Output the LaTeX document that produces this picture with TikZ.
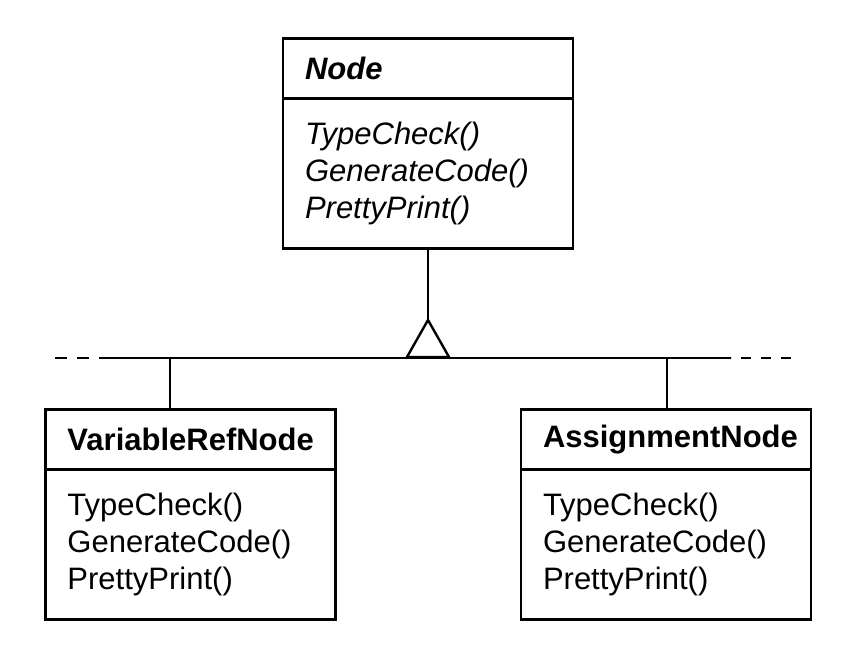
\documentclass[tikz,border=0pt]{standalone}
\usepackage{fontspec}
\setmainfont{Liberation Sans}
\usetikzlibrary{positioning}
\newcommand{\umlfont}{\fontsize{15.5}{18.5}\selectfont}

\begin{document}
\begin{tikzpicture}[x=0.5pt,y=-0.5pt,line width=1.2pt,
  classhead/.style={draw, outer sep=0pt, minimum width=145pt, minimum height=30pt, inner xsep=11pt, text width=123pt, align=left, font=\umlfont\bfseries},
  classbody/.style={draw, outer sep=0pt, minimum width=145pt, minimum height=75pt, inner xsep=11pt, text width=123pt, align=left, font=\umlfont}]
\useasboundingbox (0,0) rectangle (852,666);
% abstract class
\node [classhead, font=\umlfont\bfseries\itshape] (node) at (428,68.5) {Node};
\node [classbody, font=\umlfont\itshape, below=0pt of node] (nodeops) {TypeCheck()\\GenerateCode()\\PrettyPrint()};
% subclasses
\node [classhead] (vref) at (190.5,439.5) {VariableRefNode};
\node [classbody, below=0pt of vref] (vrefops) {TypeCheck()\\GenerateCode()\\PrettyPrint()};
\node [classhead] (assign) at (666,439.5) {AssignmentNode};
\node [classbody, below=0pt of assign] (assignops) {TypeCheck()\\GenerateCode()\\PrettyPrint()};
% inheritance triangle
\coordinate (tip) at (428,320);
\draw (nodeops.south) -- (tip);
\draw (tip) -- ++(21,37) -- ++(-42,0) -- cycle;
% bus line, dashed at both ends
\coordinate (lend) at (55,358);
\coordinate (lsolid) at (99,358);
\coordinate (rsolid) at (731,358);
\coordinate (rend) at (791,358);
\draw (lsolid) -- (rsolid);
\draw [dash pattern=on 6pt off 5pt] (lend) -- (lsolid);
\draw [dash pattern=on 5pt off 5pt] (rend) -- (rsolid);
\coordinate (lbranch) at (170,358);
\coordinate (rbranch) at (667,358);
\draw (lbranch) -- (lbranch |- vref.north);
\draw (rbranch) -- (rbranch |- assign.north);
\end{tikzpicture}
\end{document}
